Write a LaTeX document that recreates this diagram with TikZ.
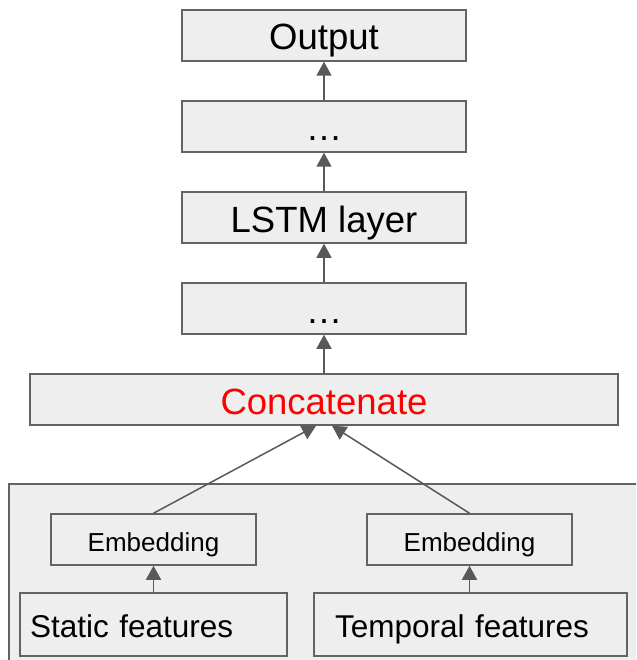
\documentclass[tikz,border=0pt]{standalone}
\usepackage{fontspec}
\setmainfont{Liberation Sans}
\usetikzlibrary{arrows.meta}
\definecolor{boxfill}{HTML}{EEEEEE}
\definecolor{boxline}{HTML}{636363}
\definecolor{arrline}{HTML}{595959}
\tikzset{
  layer/.style={draw=boxline, line width=1.5pt, fill=boxfill, inner sep=0pt,
    minimum height=51pt, minimum width=284pt,
    font=\fontsize{36.5}{40}\selectfont, text height=29pt, text depth=0pt},
  embed/.style={draw=boxline, line width=1.5pt, fill=boxfill, inner sep=0pt,
    minimum height=51pt, minimum width=205pt,
    font=\fontsize{26}{30}\selectfont, text height=23pt, text depth=0pt},
  feat/.style={draw=boxline, line width=1.5pt, fill=boxfill, inner ysep=0pt,
    minimum height=63pt, align=left,
    font=\fontsize{31.5}{36}\selectfont, text height=25pt, text depth=0pt},
  arr/.style={draw=arrline, line width=1.5pt,
    -{Triangle[length=14pt,width=15pt]}},
}
\begin{document}
\begin{tikzpicture}[x=1pt, y=-1pt]
  \useasboundingbox (0,0) rectangle (636,660);
  \clip (0,0) rectangle (636,660);
  \fill[white] (0,0) rectangle (636,660);

  % input panel
  \draw[draw=boxline, line width=1.5pt, fill=boxfill] (9,484) rectangle (650,680);

  % stack of layers
  \node[layer] (out)   at (324,35.5)  {Output};
  \node[layer] (dotsA) at (324,126.5) {…};
  \node[layer] (lstm)  at (324,217.5) {LSTM layer};
  \node[layer] (dotsB) at (324,308.5) {…};
  \node[layer, minimum width=588pt, text=red] (concat) at (324,399.5) {Concatenate};

  % embeddings and inputs
  \node[embed] (embL) at (153.5,539.5) {Embedding};
  \node[embed] (embR) at (469.5,539.5) {Embedding};
  \node[feat, inner xsep=10pt, text width=247pt] (statf) at (153.5,624.5) {Static features};
  \node[feat, inner xsep=21pt, text width=271pt] (tempf) at (470.5,624.5) {Temporal features};

  % connectors
  \draw[arr] (dotsA.north) -- (out.south);
  \draw[arr] (lstm.north) -- (dotsA.south);
  \draw[arr] (dotsB.north) -- (lstm.south);
  \draw[arr] (concat.north) -- (dotsB.south);
  \draw[arr] (embL.north) -- ([xshift=-8pt]concat.south);
  \draw[arr] (embR.north) -- ([xshift=8pt]concat.south);
  \draw[arr] (statf.north) -- (embL.south);
  \draw[arr] ([xshift=-1pt]tempf.north) -- (embR.south);
\end{tikzpicture}
\end{document}
